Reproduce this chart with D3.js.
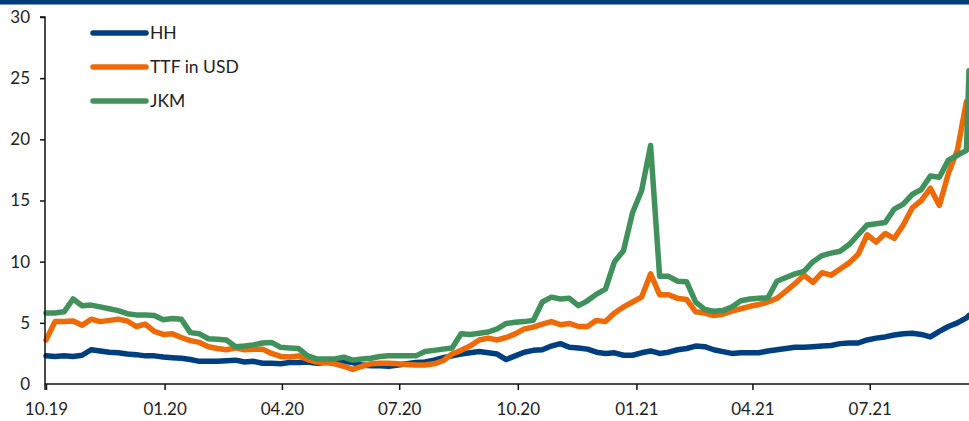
<!DOCTYPE html>
<html>
<head>
<meta charset="utf-8">
<script src="https://cdn.jsdelivr.net/npm/d3@7"></script>
<style>
  html, body { margin: 0; padding: 0; background: #fff; }
  svg { display: block; }
  text { font-family: Lato, "Open Sans", sans-serif; fill: #222; }
</style>
</head>
<body>
<svg id="chart" width="969" height="421"></svg>
<script>
// ---- data (weekly observations from 01.10.2019, last point 16.09.2021) ----
const startDate = "2019-10-01";
const endDate = "2021-09-16";
const weeks = 103;

const hh = [2.3,2.25,2.3,2.25,2.35,2.8,2.7,2.6,2.55,2.45,
  2.4,2.3,2.3,2.2,2.15,2.1,2.0,1.85,1.85,1.85,
  1.9,1.95,1.8,1.85,1.7,1.7,1.65,1.75,1.75,1.8,
  1.7,1.75,1.95,1.85,1.75,1.55,1.5,1.5,1.45,1.55,
  1.65,1.75,1.8,1.95,2.15,2.3,2.45,2.55,2.65,2.55,
  2.45,2.0,2.3,2.6,2.75,2.8,3.1,3.3,3.0,2.95,
  2.85,2.6,2.5,2.55,2.35,2.35,2.55,2.7,2.5,2.6,
  2.8,2.9,3.1,3.05,2.8,2.65,2.5,2.55,2.55,2.55,
  2.7,2.8,2.9,3.0,3.0,3.05,3.1,3.15,3.3,3.35,
  3.35,3.6,3.75,3.85,4.0,4.1,4.15,4.05,3.85,4.3,
  4.7,5.0,5.4,5.6];

const ttf = [3.6,5.1,5.1,5.15,4.8,5.3,5.1,5.2,5.3,5.15,
  4.7,4.9,4.3,4.05,4.1,3.8,3.55,3.4,3.05,2.9,
  2.8,2.95,2.8,2.85,2.85,2.5,2.25,2.2,2.3,2.0,
  1.8,1.75,1.65,1.45,1.2,1.45,1.65,1.7,1.7,1.65,
  1.6,1.55,1.55,1.65,1.9,2.45,2.75,3.1,3.6,3.75,
  3.6,3.8,4.1,4.5,4.65,4.9,5.1,4.85,4.95,4.7,
  4.7,5.2,5.1,5.8,6.3,6.7,7.1,9.0,7.3,7.3,
  7.0,6.9,5.9,5.8,5.6,5.7,5.95,6.15,6.35,6.5,
  6.7,7.0,7.6,8.2,8.9,8.3,9.1,8.9,9.4,9.9,
  10.6,12.2,11.6,12.3,11.9,13.0,14.4,15.0,16.0,14.6,
  17.2,19.1,23.1,23.2];

const jkm = [5.8,5.8,5.9,6.95,6.4,6.45,6.3,6.15,6.0,5.75,
  5.65,5.65,5.6,5.25,5.35,5.3,4.2,4.1,3.7,3.65,
  3.6,3.05,3.1,3.2,3.35,3.4,3.0,2.95,2.9,2.3,
  2.05,2.05,2.05,2.2,1.95,2.05,2.1,2.25,2.3,2.3,
  2.3,2.3,2.65,2.75,2.85,2.95,4.1,4.05,4.15,4.25,
  4.5,4.95,5.05,5.1,5.2,6.7,7.1,6.95,7.0,6.4,
  6.8,7.35,7.75,10.0,10.9,14.0,15.8,19.5,8.8,8.8,
  8.4,8.35,6.7,6.1,5.95,6.0,6.3,6.8,6.95,7.0,
  7.05,8.4,8.7,9.0,9.2,10.0,10.5,10.7,10.85,11.4,
  12.2,13.0,13.1,13.2,14.3,14.7,15.5,15.9,17.0,16.9,
  18.3,18.7,19.1,25.6];

const yTicks = [0, 5, 10, 15, 20, 25, 30];
const xTickDates = ["2019-10-01","2020-01-01","2020-04-01","2020-07-01",
                    "2020-10-01","2021-01-01","2021-04-01","2021-07-01"];
const xTickLabels = ["10.19","01.20","04.20","07.20","10.20","01.21","04.21","07.21"];

const seriesNames = ["HH", "TTF in USD", "JKM"];
const seriesColors = ["#003f7f", "#ee6a06", "#40915c"];

// ---- build ----
const parse = d3.utcParse("%Y-%m-%d");
const t0 = parse(startDate);
const dates = d3.range(weeks).map(i => d3.utcDay.offset(t0, i * 7));
dates.push(parse(endDate));

const series = [hh, ttf, jkm].map((vals, k) => ({
  name: seriesNames[k], color: seriesColors[k],
  points: vals.map((v, i) => ({ date: dates[i], value: v }))
}));

const svg = d3.select("#chart");
const W = 969;
const mLeft = 45, mRight = 969, mTop = 17, mBottom = 384;

const x = d3.scaleUtc().domain([t0, parse(endDate)]).range([mLeft + 1, mRight]);
const y = d3.scaleLinear().domain([0, 30]).range([mBottom, mTop]);

// top band
svg.append("rect").attr("x", 0).attr("y", 0).attr("width", W).attr("height", 4.5)
  .attr("fill", "#003c7b");

// lines
const line = d3.line().x(d => x(d.date)).y(d => y(d.value)).curve(d3.curveLinear);
svg.append("g").selectAll("path").data(series).join("path")
  .attr("d", d => line(d.points))
  .attr("fill", "none")
  .attr("stroke", d => d.color)
  .attr("stroke-width", 5.5)
  .attr("stroke-linejoin", "round")
  .attr("stroke-linecap", "round");

// y axis
const yAxis = d3.axisLeft(y).tickValues(yTicks).tickSize(5).tickPadding(10).tickFormat(d3.format("d"));
const gy = svg.append("g").attr("transform", `translate(${mLeft},0)`).call(yAxis);
gy.select(".domain").attr("stroke", "#111").attr("stroke-width", 1.5).attr("d", `M-5,${mTop}H0V${mBottom + 6}`);
gy.selectAll(".tick line").attr("stroke", "#111").attr("stroke-width", 1.5);
gy.selectAll(".tick text").style("font-size", "17px").style("font-family", "Lato, sans-serif").attr("fill", "#222");
gy.selectAll(".tick").filter(d => d === 0).select("line").remove();

// x axis
const xAxis = d3.axisBottom(x)
  .tickValues(xTickDates.map(parse))
  .tickSize(6).tickPadding(13)
  .tickFormat((d, i) => xTickLabels[i]);
const gx = svg.append("g").attr("transform", `translate(0,${mBottom})`).call(xAxis);
gx.select(".domain").attr("stroke", "#111").attr("stroke-width", 1.5).attr("d", `M${mLeft},0H${mRight}`);
gx.selectAll(".tick line").attr("stroke", "#111").attr("stroke-width", 1.5);
gx.selectAll(".tick text").style("font-size", "17px").style("font-family", "Lato, sans-serif").attr("fill", "#222");

// legend
const legend = svg.append("g");
const lg = legend.selectAll("g").data(series).join("g")
  .attr("transform", (d, i) => `translate(0,${33 + i * 34})`);
lg.append("line").attr("x1", 93).attr("x2", 146).attr("y1", 0).attr("y2", 0)
  .attr("stroke", d => d.color).attr("stroke-width", 5.5).attr("stroke-linecap", "round");
lg.append("text").attr("x", 150).attr("y", 0).attr("dy", "0.36em")
  .style("font-size", "17.5px").text(d => d.name);
</script>
</body>
</html>
